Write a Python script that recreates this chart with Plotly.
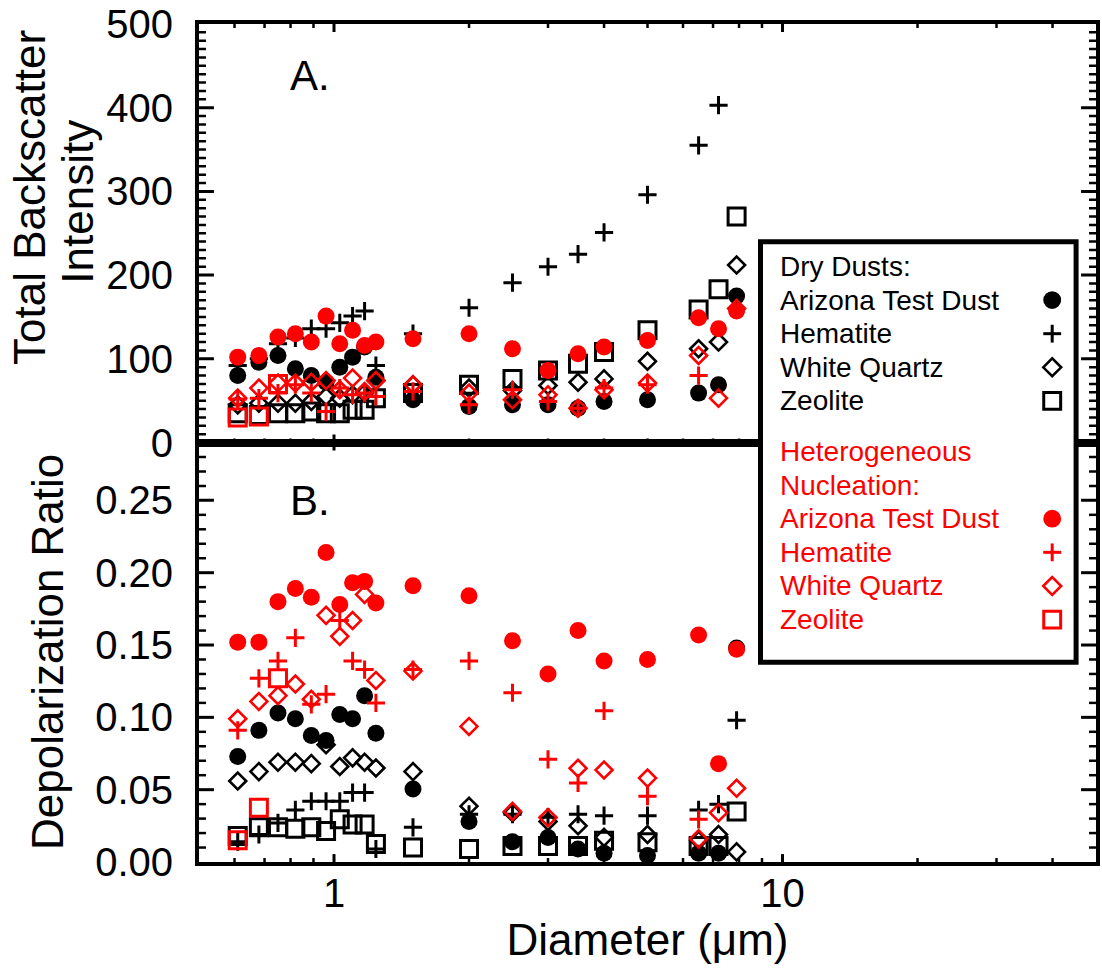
import math
import plotly.graph_objects as go

# ---------------- data ----------------
diameter = [0.61, 0.68, 0.75, 0.82, 0.89, 0.96, 1.03, 1.10, 1.17, 1.24,
            1.5, 2.0, 2.5, 3.0, 3.5, 4.0, 5.0, 6.5, 7.2, 7.9]

# Panel A: total backscatter intensity
dry_atd_int = [80, 96, 104, 88, 80, 72, 90, 102, 114, 78, 51, 43, 45, 45, 41, 49, 51, 59, 69, 175]
dry_hem_int = [92, 100, 118, 125, 136, 136, 143, 151, 157, 92, 130, 161, 191, 210, 225, 251, 296, 355, 403, None]
dry_wq_int = [45, 47, 47, 47, 49, 55, 53, 57, 59, 74, 69, 65, 62, 68, 72, 76, 97, 112, 120, 212]
dry_zeo_int = [35, 33, 35, 35, 37, 35, 35, 39, 39, 53, 59, 69, 76, 86, 94, 108, 134, 159, 183, 270]
het_atd_int = [102, 104, 126, 130, 120, 151, 118, 134, 116, 120, 124, 130, 112, 86, 106, 114, 122, 149, 136, 157]
het_hem_int = [52, 53, 59, 69, 59, 37, 65, 57, 59, 55, 61, 45, 63, 49, 41, 65, 69, 80, None, None]
het_wq_int = [53, 65, 71, 71, 72, 74, 63, 77, 61, 74, 69, 59, 51, 57, 41, 63, 71, 104, 53, 160]
het_zeo_int = [30, 31, 70]

# Panel B: depolarization ratio
dry_atd_dep = [0.073, 0.091, 0.103, 0.099, 0.0875, 0.084, 0.102, 0.099, 0.115, 0.089,
               0.0505, 0.028, 0.014, 0.017, 0.009, 0.006, 0.0045, 0.006, 0.006, 0.148]
dry_hem_dep = [0.014, 0.019, 0.027, 0.036, 0.042, 0.042, 0.042, 0.048, 0.048, 0.009,
               0.024, 0.033, 0.033, 0.031, 0.033, 0.032, 0.032, 0.036, 0.040, 0.098]
dry_wq_dep = [0.056, 0.0625, 0.069, 0.069, 0.068, 0.081, 0.066, 0.072, 0.069, 0.065,
              0.0625, 0.0386, 0.034, 0.028, 0.025, 0.017, 0.019, 0.015, 0.019, 0.007]
dry_zeo_dep = [0.018, 0.024, 0.024, 0.023, 0.024, 0.0215, 0.0295, 0.026, 0.026, 0.0125,
               0.010, 0.009, 0.011, 0.011, 0.011, 0.0147, 0.0136, 0.011, 0.011, 0.035]
het_atd_dep = [0.152, 0.152, 0.180, 0.189, 0.183, 0.214, 0.178, 0.193, 0.194, 0.179,
               0.191, 0.184, 0.153, 0.130, 0.160, 0.139, 0.140, 0.157, 0.068, 0.147]
het_hem_dep = [0.091, 0.127, 0.139, 0.155, 0.109, 0.116, 0.167, 0.139, 0.133, 0.110,
               0.133, 0.139, 0.117, 0.071, 0.0546, 0.1045, 0.0455, 0.0295, None, None]
het_wq_dep = [0.099, 0.111, 0.115, 0.123, 0.1125, 0.1705, 0.156, 0.167, 0.185, 0.1255,
              0.132, 0.0937, 0.035, 0.0307, 0.0648, 0.0636, 0.058, 0.016, 0.034, 0.051]
het_zeo_dep = [0.015, 0.0375, 0.127]

dust_names = ["Arizona Test Dust", "Hematite", "White Quartz", "Zeolite"]
x_major = [1, 10]
x_minor = [0.6, 0.7, 0.8, 0.9, 2, 3, 4, 5, 6, 7, 8, 9, 20, 30, 40]
y_int_ticks = [0, 100, 200, 300, 400, 500]
y_int_minor = [v for v in range(10, 500, 10) if v % 100]
y_dep_ticks = [0.00, 0.05, 0.10, 0.15, 0.20, 0.25]
y_dep_minor = [k / 100 for k in range(1, 29) if k % 5]

# ---------------- styling ----------------
FONT = "Liberation Sans, Arial, sans-serif"
BLACK = "#000000"
RED = "#ff0000"
W, H = 1102, 978
ML, MR, MT, MB = 199, 2, 15, 116
PW, PH = W - ML - MR, H - MT - MB
PANEL_H = 424


def px_x(px):
    return (px - ML) / PW


def px_y(py):
    return (H - MB - py) / PH


def marker(sym, color):
    if sym == "circle":
        return dict(symbol="circle", size=17, color=color, line=dict(width=0))
    if sym == "plus":
        return dict(symbol="cross-thin-open", size=13, color=color, line=dict(width=3, color=color))
    if sym == "diamond":
        return dict(symbol="diamond-open", size=13, color=color, line=dict(width=2.6, color=color))
    return dict(symbol="square-open", size=17, color=color, line=dict(width=3, color=color))


symbols = ["circle", "plus", "diamond", "square"]
intensity = [(dry_atd_int, dry_hem_int, dry_wq_int, dry_zeo_int),
             (het_atd_int, het_hem_int, het_wq_int, het_zeo_int)]
depol = [(dry_atd_dep, dry_hem_dep, dry_wq_dep, dry_zeo_dep),
         (het_atd_dep, het_hem_dep, het_wq_dep, het_zeo_dep)]

xr = [math.log10(0.5), math.log10(50)]
yr_int = [0, 500]
yr_dep = [0, 0.29]

fig = go.Figure()


# inward tick marks on all four sides of a panel, drawn as line traces in data units
def tick_trace(xax, yax, yr, xvals, yvals, xlen, ylen, width):
    dx = (xr[1] - xr[0]) * ylen / PW          # horizontal extent of y-ticks (log units)
    dy = (yr[1] - yr[0]) * xlen / PANEL_H     # vertical extent of x-ticks (data units)
    xs, ys = [], []
    for v in xvals:
        xs += [v, v, None, v, v, None]
        ys += [yr[0], yr[0] + dy, None, yr[1] - dy, yr[1], None]
    for v in yvals:
        xs += [10 ** xr[0], 10 ** (xr[0] + dx), None, 10 ** (xr[1] - dx), 10 ** xr[1], None]
        ys += [v, v, None, v, v, None]
    fig.add_trace(go.Scatter(x=xs, y=ys, mode="lines", xaxis=xax, yaxis=yax,
                             line=dict(color=BLACK, width=width), hoverinfo="skip",
                             showlegend=False, connectgaps=False))


tick_trace("x", "y", yr_int, x_major, y_int_ticks[1:-1], 8, 15, 3)
tick_trace("x", "y", yr_int, x_minor, y_int_minor, 4, 7, 2.5)
tick_trace("x2", "y2", yr_dep, x_major, y_dep_ticks[1:], 8, 15, 3)
tick_trace("x2", "y2", yr_dep, x_minor, y_dep_minor, 4, 7, 2.5)

for group, color in zip(range(2), [BLACK, RED]):
    for k, sym in enumerate(symbols):
        yi = intensity[group][k]
        fig.add_trace(go.Scatter(x=diameter[:len(yi)], y=yi, mode="markers",
                                 marker=marker(sym, color), xaxis="x", yaxis="y",
                                 showlegend=False))
        yd = depol[group][k]
        fig.add_trace(go.Scatter(x=diameter[:len(yd)], y=yd, mode="markers",
                                 marker=marker(sym, color), xaxis="x2", yaxis="y2",
                                 showlegend=False))

split = PANEL_H / PH
axis_common = dict(showline=True, linecolor=BLACK, linewidth=4, mirror=True,
                   ticks="", zeroline=False, showgrid=False,
                   tickfont=dict(family=FONT, size=40, color=BLACK))

fig.update_layout(
    width=W, height=H, margin=dict(l=ML, r=MR, t=MT, b=MB),
    paper_bgcolor="white", plot_bgcolor="white", showlegend=False,
    xaxis=dict(**axis_common, type="log", range=xr, domain=[0, 1], anchor="y",
               tickvals=x_major, showticklabels=False),
    yaxis=dict(**axis_common, range=yr_int, domain=[split, 1], anchor="x",
               tickvals=y_int_ticks, ticklabelstandoff=14, ticklabeloverflow="allow"),
    xaxis2=dict(**axis_common, type="log", range=xr, domain=[0, 1], anchor="y2",
                tickvals=x_major, ticktext=["1", "10"], ticklabelstandoff=-7,
                title=dict(text="Diameter (μm)", font=dict(family=FONT, size=44, color=BLACK), standoff=4)),
    yaxis2=dict(**axis_common, range=yr_dep, domain=[0, split], anchor="x2",
                tickvals=y_dep_ticks, tickformat=".2f", ticklabelstandoff=14,
                ticklabeloverflow="allow"),
)

# legend frame (drawn over the panel divider)
fig.add_shape(type="rect", xref="paper", yref="paper",
              x0=px_x(763), x1=px_x(1080), y0=px_y(660), y1=px_y(235),
              line=dict(color=BLACK, width=5), fillcolor="white", layer="above")

# legend key symbols
key_rows_dry = [294, 328, 362, 396]
key_rows_het = [515, 549, 583, 617]
key_x = 1056


def key_shapes(sym, color, cx, cy):
    if sym == "circle":
        r = 9
        return [dict(type="circle", x0=px_x(cx - r), x1=px_x(cx + r), y0=px_y(cy + r), y1=px_y(cy - r),
                     fillcolor=color, line=dict(width=0))]
    if sym == "plus":
        a = 9
        return [dict(type="line", x0=px_x(cx - a), x1=px_x(cx + a), y0=px_y(cy), y1=px_y(cy),
                     line=dict(color=color, width=3)),
                dict(type="line", x0=px_x(cx), x1=px_x(cx), y0=px_y(cy - a), y1=px_y(cy + a),
                     line=dict(color=color, width=3))]
    if sym == "diamond":
        a = 9
        path = "M {} {} L {} {} L {} {} L {} {} Z".format(
            px_x(cx - a), px_y(cy), px_x(cx), px_y(cy - a),
            px_x(cx + a), px_y(cy), px_x(cx), px_y(cy + a))
        return [dict(type="path", path=path, line=dict(color=color, width=2.6))]
    a = 8.5
    return [dict(type="rect", x0=px_x(cx - a), x1=px_x(cx + a), y0=px_y(cy + a), y1=px_y(cy - a),
                 line=dict(color=color, width=3))]


for rows, color in [(key_rows_dry, BLACK), (key_rows_het, RED)]:
    for row, sym in zip(rows, symbols):
        for s in key_shapes(sym, color, key_x, row):
            fig.add_shape(xref="paper", yref="paper", layer="above", **s)

annotations = []
text_x = px_x(781)
lines = [("Dry Dusts:", 260, BLACK)] + \
        [(n, r, BLACK) for n, r in zip(dust_names, key_rows_dry)] + \
        [("Heterogeneous", 447, RED), ("Nucleation:", 481, RED)] + \
        [(n, r, RED) for n, r in zip(dust_names, key_rows_het)]
for txt, row, color in lines:
    annotations.append(dict(text=txt, x=text_x, y=px_y(row), xref="paper", yref="paper",
                            xanchor="left", yanchor="middle", showarrow=False,
                            font=dict(family=FONT, size=28, color=color)))

# panel labels
for txt, row in [("A.", 67), ("B.", 497)]:
    annotations.append(dict(text=txt, x=px_x(310), y=px_y(row), xref="paper", yref="paper",
                            xanchor="center", yanchor="middle", showarrow=False,
                            font=dict(family=FONT, size=42, color=BLACK)))

# y axis titles
for txt, cx, cy in [("Total Backscatter", 28, 190), ("Intensity", 77, 195),
                    ("Depolarization Ratio", 47, 650)]:
    annotations.append(dict(text=txt, x=px_x(cx), y=px_y(cy), xref="paper", yref="paper",
                            xanchor="center", yanchor="middle", textangle=-90, showarrow=False,
                            font=dict(family=FONT, size=44, color=BLACK)))

fig.update_layout(annotations=annotations)
fig.write_html("out.html")
